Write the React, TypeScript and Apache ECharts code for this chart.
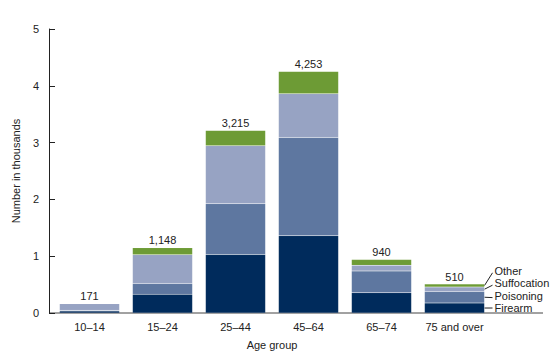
import React, { useEffect, useRef } from "react";
import * as echarts from "echarts";

const categories = ["10–14", "15–24", "25–44", "45–64", "65–74", "75 and over"];
const firearm = [35, 330, 1030, 1360, 355, 175];
const poisoning = [15, 190, 895, 1730, 385, 205];
const suffocation = [115, 505, 1020, 770, 100, 78];
const other = [6, 123, 270, 393, 100, 52];
const totals = [171, 1148, 3215, 4253, 940, 510];
const seriesNames = ["Firearm", "Poisoning", "Suffocation", "Other"];
const seriesColors = ["#002b5c", "#5e77a0", "#97a3c3", "#6d9b35"];
const yMax = 5;
const yInterval = 1;

const FONT = "'Liberation Sans', Arial, sans-serif";
const TEXT = "#222";

export default function App() {
  const ref = useRef<HTMLDivElement>(null);
  useEffect(() => {
    if (!ref.current) return;
    const chart = echarts.init(ref.current, undefined, { renderer: "svg" });
    const values = [firearm, poisoning, suffocation, other];
    const series: any[] = values.map((arr, i) => ({
      name: seriesNames[i],
      type: "bar",
      stack: "total",
      barWidth: 60,
      data: arr.map((v) => v / 1000),
      itemStyle: { color: seriesColors[i], borderColor: "rgba(255,255,255,0.12)", borderWidth: 0.5 },
      label:
        i === values.length - 1
          ? {
              show: true,
              position: "top",
              distance: 2,
              color: TEXT,
              fontFamily: FONT,
              fontSize: 11,
              formatter: (p: any) => totals[p.dataIndex].toLocaleString("en-US"),
            }
          : { show: false },
    }));
    chart.setOption({
      animation: false,
      textStyle: { fontFamily: FONT },
      grid: { left: 53, right: 69, top: 29, bottom: 47 },
      xAxis: {
        type: "category",
        data: categories,
        axisLine: { show: false },
        axisTick: { show: false },
        axisLabel: { color: TEXT, fontSize: 11, fontFamily: FONT, margin: 8, interval: 0 },
        name: "Age group",
        nameLocation: "middle",
        nameGap: 26,
        nameTextStyle: { color: TEXT, fontSize: 11, fontFamily: FONT },
      },
      yAxis: {
        type: "value",
        min: 0,
        max: yMax,
        interval: yInterval,
        offset: 4,
        splitLine: { show: false },
        axisLine: { show: true, lineStyle: { color: "#222", width: 1 } },
        axisTick: { show: true, inside: true, length: 6, lineStyle: { color: "#222" } },
        axisLabel: { color: TEXT, fontSize: 11, fontFamily: FONT, margin: 10 },
        name: "Number in thousands",
        nameLocation: "middle",
        nameGap: 20,
        nameTextStyle: { color: TEXT, fontSize: 11, fontFamily: FONT },
      },
      series,
    });

    // annotations for the last bar and extended x-axis line
    const last = categories.length - 1;
    const zero = chart.convertToPixel({ gridIndex: 0 }, [0, 0]) as number[];
    const lastCenter = chart.convertToPixel({ gridIndex: 0 }, [last, 0]) as number[];
    const barRight = lastCenter[0] + 30;
    const textX = barRight + 10;
    const graphics: any[] = [];
    let cum = 0;
    values.forEach((arr, i) => {
      const v = arr[last] / 1000;
      const mid = (chart.convertToPixel({ gridIndex: 0 }, [last, cum + v / 2]) as number[])[1];
      cum += v;
      const textY = zero[1] - 5 - i * 12.4;
      const endY = i === 0 ? textY : textY + 2;
      graphics.push({
        type: "line",
        shape: { x1: barRight, y1: mid, x2: textX - 2, y2: endY },
        style: { stroke: "#222", lineWidth: 1 },
      });
      graphics.push({
        type: "text",
        x: textX,
        y: textY,
        style: {
          text: seriesNames[i],
          fill: TEXT,
          font: `11px ${FONT}`,
          verticalAlign: "middle",
          align: "left",
        },
      });
    });
    graphics.push({
      type: "line",
      shape: { x1: 49, y1: zero[1], x2: 543, y2: zero[1] },
      style: { stroke: "#444", lineWidth: 1 },
    });
    chart.setOption({ graphic: graphics });
    return () => chart.dispose();
  }, []);
  return (
    <div
      ref={ref}
      style={{ position: "absolute", left: 0, top: 0, width: 560, height: 360, background: "#fff" }}
    />
  );
}
